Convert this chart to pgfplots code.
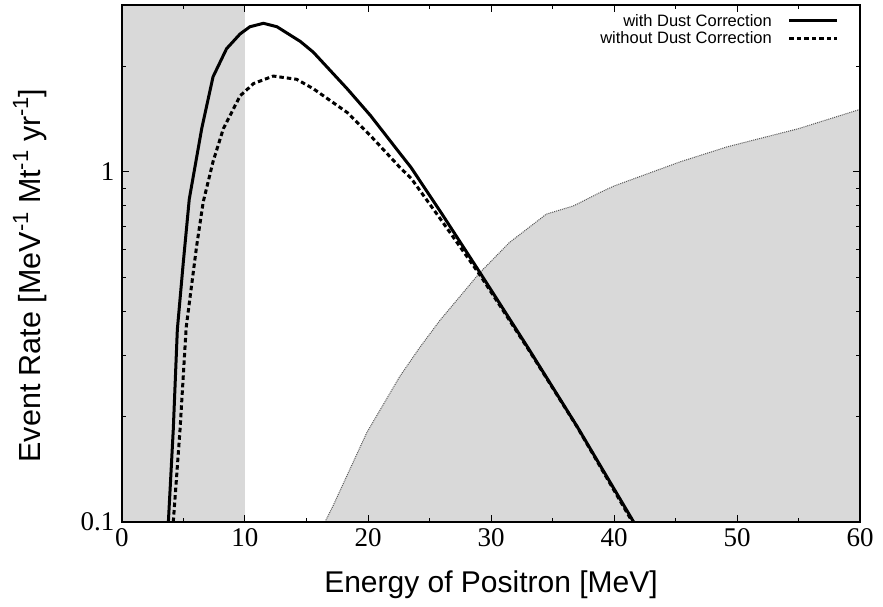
\documentclass[border=0pt]{standalone}
\usepackage{fontspec}
\setmainfont{Liberation Sans}
\newfontfamily\serifnum{Liberation Serif}
\usepackage{pgfplots}
\usepackage{pgfplotstable}
\pgfplotsset{compat=1.18}
\definecolor{shade}{RGB}{217,217,217}
\newcommand\sups[1]{\raisebox{0.42em}{\fontsize{22}{22}\selectfont #1}}

\pgfplotstableread{
E y
3.77 0.1
4.17 0.184
4.5 0.355
4.98 0.55
5.47 0.837
6.48 1.33
7.4 1.87
8.5 2.25
9.6 2.48
10.4 2.60
11.5 2.66
12.6 2.60
14.5 2.36
15.55 2.20
18.3 1.73
20.2 1.45
22.6 1.13
23.5 1.03
26.0 0.76
29.1 0.516
33.0 0.315
37.0 0.1875
41.6 0.1
}\withdust

\pgfplotstableread{
E y
4.17 0.1
4.72 0.184
5.22 0.36
6.07 0.615
6.6 0.82
7.4 1.07
8.24 1.33
9.6 1.65
10.7 1.79
12.3 1.88
14.2 1.84
15.55 1.73
18.3 1.48
20.2 1.27
22.6 1.03
23.5 0.96
26.0 0.725
29.1 0.508
33.0 0.313
37.0 0.187
41.5 0.1
}\withoutdust

\pgfplotstableread{
E y
16.5 0.1
17.2 0.112
19.9 0.18
22.6 0.261
24.2 0.315
25.85 0.377
29.1 0.516
31.5 0.629
34.5 0.758
36.7 0.80
38.9 0.875
40.0 0.912
45.4 1.07
49.2 1.18
55.0 1.33
60.0 1.51
}\background

\begin{document}
\begin{tikzpicture}
\begin{axis}[
  at={(0,0)}, anchor=south west,
  scale only axis, width=738pt, height=517pt,
  xmin=0, xmax=60, ymode=log, ymin=0.1, ymax=3,
  xtick={0,10,...,60}, minor xtick={5,15,...,55},
  ytick={0.1,1}, yticklabels={0.1,1},
  minor ytick={0.2,0.3,0.4,0.5,0.6,0.7,0.8,0.9,2,3},
  tick align=inside, tick pos=both,
  major tick length=7pt, minor tick length=4pt,
  axis line style={line width=1.5pt},
  every tick/.style={line width=1pt, black},
  /pgf/number format/assume math mode=true,
  tick label style={font=\serifnum\fontsize{27}{27}\selectfont},
  xticklabel style={yshift=-3pt},
  yticklabel style={xshift=-4pt},
  axis on top,
  xlabel={Energy of Positron [MeV]},
  ylabel={Event Rate [MeV\sups{-1} Mt\sups{-1} yr\sups{-1}]},
  every axis x label/.style={at={(axis description cs:0.5,0)}, anchor=base, yshift=-70pt, font=\fontsize{30}{34}\selectfont},
  every axis y label/.style={at={(axis description cs:0,0.5)}, rotate=90, anchor=base, yshift=81pt, xshift=-12pt, font=\fontsize{30.5}{34}\selectfont},
  legend style={draw=none, fill=none, at={(rel axis cs:1,1)}, anchor=north east,
    xshift=-18pt, yshift=-5pt, font=\fontsize{16.5}{18}\selectfont, row sep=0pt},
  legend cell align=right,
  legend plot pos=right,
  legend image code/.code={\path (0pt,0pt); \draw[#1] (14pt,0pt) -- (62pt,0pt);},
]
\addplot[fill=shade, draw=none, forget plot] coordinates {(0,0.1) (0,3) (10,3) (10,0.1)} -- cycle;
\addplot[fill=shade, draw=none, forget plot] coordinates {
(16.5,0.1) (17.2,0.112) (19.9,0.18) (22.6,0.261) (24.2,0.315) (25.85,0.377) (29.1,0.516)
(31.5,0.629) (34.5,0.758) (36.7,0.80) (38.9,0.875) (40.0,0.912) (45.4,1.07) (49.2,1.18)
(55.0,1.33) (60.0,1.51) (60,0.1)} -- cycle;
\addplot[forget plot, color=black!65, line width=1pt, dash pattern=on 1pt off 1pt] table[x=E,y=y] {\background};
\addplot[black, line width=3pt] table[x=E,y=y] {\withdust};
\addlegendentry{with Dust Correction}
\addplot[black, line width=3pt, dash pattern=on 4.5pt off 3pt] table[x=E,y=y] {\withoutdust};
\addlegendentry{without Dust Correction}
\end{axis}
\pgfresetboundingbox
\path (-122pt,-84pt) rectangle (761pt,522pt);
\end{tikzpicture}
\end{document}
